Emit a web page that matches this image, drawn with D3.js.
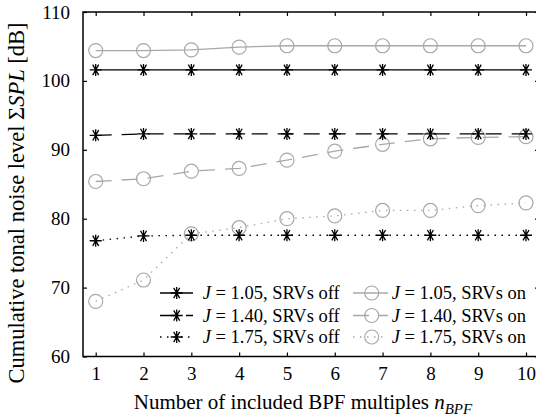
<!DOCTYPE html>
<html><head><meta charset="utf-8">
<script src="https://cdn.jsdelivr.net/npm/d3@7"></script>
<style>html,body{margin:0;padding:0;background:#fff;overflow:hidden}</style>
</head><body>
<svg id="c" width="536" height="418"></svg>
<script>
const nBPF = [1,2,3,4,5,6,7,8,9,10];
const off105 = [101.6,101.6,101.6,101.6,101.6,101.6,101.6,101.6,101.6,101.6];
const off140 = [92.1,92.3,92.3,92.3,92.3,92.3,92.3,92.3,92.3,92.3];
const off175 = [76.8,77.5,77.6,77.6,77.6,77.6,77.6,77.6,77.6,77.6];
const on105 = [104.4,104.4,104.5,104.9,105.1,105.1,105.1,105.1,105.1,105.1];
const on140 = [85.4,85.8,86.9,87.3,88.5,89.8,90.8,91.6,91.8,91.9];
const on175 = [68.0,71.1,77.8,78.7,80.0,80.4,81.2,81.2,81.9,82.3];
const yTicks = [60,70,80,90,100,110];
const legendLabels = ["1.05, SRVs off","1.40, SRVs off","1.75, SRVs off","1.05, SRVs on","1.40, SRVs on","1.75, SRVs on"];

const BLACK = "#000", GRAY = "#a8a8a8";
const dashes = [null, "16,10", "1.5,5.5"];
const series = [
  {v: off105, c: BLACK, d: 0, m: "star"},
  {v: off140, c: BLACK, d: 1, m: "star"},
  {v: off175, c: BLACK, d: 2, m: "star"},
  {v: on105, c: GRAY, d: 0, m: "circle"},
  {v: on140, c: GRAY, d: 1, m: "circle"},
  {v: on175, c: GRAY, d: 2, m: "circle"}
];

const L = 83, R = 539, T = 12, B = 356.5;
const x = d3.scaleLinear().domain([1,10]).range([95.7, 526]);
const y = d3.scaleLinear().domain([60,110]).range([B, T]);
const svg = d3.select("#c");
const font = "'Liberation Serif','Times New Roman',serif";

function drawMarker(g, type, cx, cy, color) {
  if (type === "circle") {
    g.append("circle").attr("cx", cx).attr("cy", cy).attr("r", 7)
      .attr("fill", "none").attr("stroke", color).attr("stroke-width", 1.2);
  } else {
    const r = 6;
    const p = [];
    [0, 90, 60, 120].forEach(a => {
      const rad = a * Math.PI / 180;
      p.push(`M${cx - r*Math.cos(rad)},${cy - r*Math.sin(rad)}L${cx + r*Math.cos(rad)},${cy + r*Math.sin(rad)}`);
    });
    g.append("path").attr("d", p.join("")).attr("stroke", color).attr("stroke-width", 1.3).attr("fill", "none");
  }
}

// series
const line = d3.line().x((d,i) => x(nBPF[i])).y(d => y(d));
const plot = svg.append("g");
[3,4,5,0,1,2].forEach(k => {
  const s = series[k];
  plot.append("path").attr("d", line(s.v)).attr("fill", "none")
    .attr("stroke", s.c).attr("stroke-width", 1.3)
    .attr("stroke-dasharray", dashes[s.d]);
  s.v.forEach((v,i) => drawMarker(plot, s.m, x(nBPF[i]), y(v), s.c));
});

// frame
svg.append("rect").attr("x", L).attr("y", T).attr("width", R - L).attr("height", B - T)
  .attr("fill", "none").attr("stroke", "#000").attr("stroke-width", 1.5);

// axes
const xAxB = d3.axisBottom(x).tickValues(nBPF).tickSize(-4).tickPadding(10).tickFormat(d3.format("d"));
const gx = svg.append("g").attr("transform", `translate(0,${B})`).call(xAxB);
gx.select(".domain").remove();
const gxt = svg.append("g").attr("transform", `translate(0,${T})`).call(d3.axisTop(x).tickValues(nBPF).tickSize(-4).tickFormat(""));
gxt.select(".domain").remove();
const gy = svg.append("g").attr("transform", `translate(${L},0)`).call(d3.axisLeft(y).tickValues(yTicks).tickSize(-4).tickPadding(13));
gy.select(".domain").remove();
const gyr = svg.append("g").attr("transform", `translate(${R},0)`).call(d3.axisRight(y).tickValues(yTicks).tickSize(-4).tickFormat(""));
gyr.select(".domain").remove();
svg.selectAll("g").attr("font-family", font);
svg.selectAll(".tick line").attr("stroke", "#000").attr("stroke-width", 1.2);
svg.selectAll(".tick text").attr("font-family", font).attr("font-size", 19).attr("fill", "#000");

// x label
const xl = svg.append("text").attr("x", 303).attr("y", 409).attr("text-anchor", "middle")
  .attr("font-family", font).attr("font-size", 21);
xl.append("tspan").text("Number of included BPF multiples ");
xl.append("tspan").attr("font-style", "italic").text("n");
xl.append("tspan").attr("font-style", "italic").attr("font-size", 15).attr("dy", 5).text("BPF");

// y label
const yl = svg.append("text").attr("transform", "translate(24,203) rotate(-90)").attr("text-anchor", "middle")
  .attr("font-family", font).attr("font-size", 22.5);
yl.append("tspan").text("Cumulative tonal noise level Σ");
yl.append("tspan").attr("font-style", "italic").text("SPL");
yl.append("tspan").text(" [dB]");

// legend
const lg = svg.append("g");
const rowsY = [293, 315.5, 337];
const colX = [{x0:160, x1:193, mx:176.7, tx:202.7}, {x0:353, x1:388, mx:371.7, tx:391.7}];
series.forEach((s,k) => {
  const col = colX[Math.floor(k/3)], ry = rowsY[k%3];
  lg.append("line").attr("x1", col.x0).attr("x2", col.x1).attr("y1", ry).attr("y2", ry)
    .attr("stroke", s.c).attr("stroke-width", 1.3).attr("stroke-dasharray", dashes[s.d]);
  drawMarker(lg, s.m, col.mx, ry, s.c);
  const t = lg.append("text").attr("x", col.tx).attr("y", ry + 6).attr("font-family", font).attr("font-size", 18.5);
  t.append("tspan").attr("font-style", "italic").text("J");
  t.append("tspan").text(" = " + legendLabels[k]);
});
</script>
</body></html>
